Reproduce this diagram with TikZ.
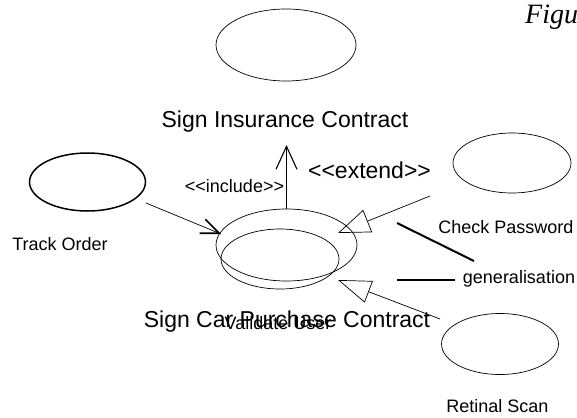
\documentclass[tikz,border=0pt]{standalone}
\usepackage{fontspec}
\setmainfont{Liberation Sans}
\newfontfamily\figfont{Liberation Serif}
\usetikzlibrary{shapes.geometric,arrows.meta}
\begin{document}
\begin{tikzpicture}[x=1pt, y=-1pt,
    usecase/.style={draw, ellipse, inner sep=0pt, line width=0.7pt},
    bigtext/.style={font=\fontsize{23}{27}\selectfont, inner sep=0pt, anchor=base},
    smalltext/.style={font=\fontsize{18}{21}\selectfont, inner sep=0pt, anchor=base}]

   \useasboundingbox (0,0) rectangle (577,417);

   % use cases
   \node[usecase, minimum width=140pt, minimum height=72pt] at (286,45)  (insure) {};
   \node[usecase, minimum width=141pt, minimum height=72pt] at (286.5,245)  (car) {};
   \node[usecase, minimum width=118pt, minimum height=60pt] at (280,259)  (validate) {};
   \node[usecase, minimum width=116pt, minimum height=58pt, line width=1.5pt] at (87.5,182)  (track) {};
   \node[usecase, minimum width=118pt, minimum height=60pt] at (512,163)  (check) {};
   \node[usecase, minimum width=117pt, minimum height=61pt] at (500,344)  (retinal) {};

   % labels
   \node[bigtext] at (285,127)  (insurelbl) {Sign Insurance Contract};
   \node[bigtext] at (287,327)  (carlbl) {Sign Car Purchase Contract};
   \node[smalltext] at (278,329)  (validatelbl) {Validate User};
   \node[smalltext] at (60,250)  (tracklbl) {Track Order};
   \node[smalltext] at (506,233)  (checklbl) {Check Password};
   \node[smalltext] at (497.5,412)  (retinallbl) {Retinal Scan};
   \node[smalltext] at (519,283)  (genlbl) {generalisation};
   \node[smalltext] at (234.5,192)  (inclbl) {<{}<include>{}>};
   \node[bigtext] at (369.5,178)  (extlbl) {<{}<extend>{}>};
   \node[font=\figfont\itshape\fontsize{28}{32}\selectfont, inner sep=0pt, anchor=base west] at (525,24)  (fig) {Figu};

   % connector ends
   \coordinate (trackout) at (146,203);
   \coordinate (trackin) at (221,234);
   \coordinate (incend) at (286.5,145);
   \coordinate (checkout) at (430,196);
   \coordinate (checkin) at (338,233);
   \coordinate (retinalout) at (440,319);
   \coordinate (retinalin) at (338,280);
   \coordinate (genup) at (397,223);
   \coordinate (genupend) at (474,261);
   \coordinate (genlow) at (397,280);
   \coordinate (genlowend) at (455,280);

   % connectors
   \draw [line width=0.7pt, -{Straight Barb[length=18pt, width=15pt, line width=1.6pt]}]  (trackout)to(trackin);
   \draw [line width=1pt, -{Straight Barb[length=23pt, width=21pt, line width=1.1pt]}]  (car.north)to(incend);
   \draw [line width=0.7pt, -{Triangle[open, length=32pt, width=24pt]}]  (checkout)to(checkin);
   \draw [line width=0.7pt, -{Triangle[open, length=33pt, width=23pt]}]  (retinalout)to(retinalin);

%generalisation marks
   \draw [line width=2pt]  (genup)to(genupend);
   \draw [line width=2pt]  (genlow)to(genlowend);

\end{tikzpicture}
\end{document}
